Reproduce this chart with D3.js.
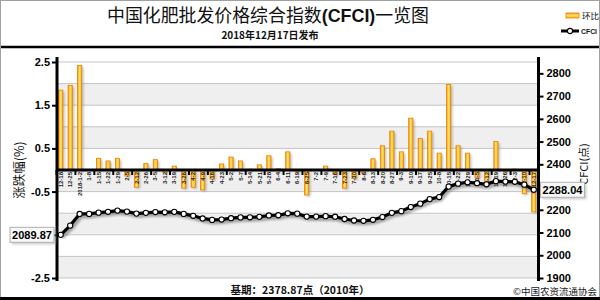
<!DOCTYPE html>
<html><head><meta charset="utf-8">
<script src="https://cdn.jsdelivr.net/npm/d3@7"></script>
<style>
body{margin:0;background:#fff}
svg{display:block}
text{font-family:Arial,"Liberation Sans",sans-serif}
.cjk{font-family:"Noto Sans CJK SC","Noto Sans",sans-serif}
</style>
</head><body>
<svg id="c" width="600" height="300"></svg>
<script>
const labels=["12-18","12-25","2018-1-2","1-8","1-15","1-22","1-29","2-5","2-12","2-26","3-5","3-12","3-19","3-26","4-2","4-9","4-16","4-23","5-2","5-7","5-14","5-21","5-28","6-4","6-11","6-19","6-25","7-2","7-9","7-16","7-23","7-30","8-6","8-13","8-20","8-27","9-3","9-10","9-17","9-25","10-8","10-15","10-22","10-29","11-5","11-12","11-19","11-26","12-3","12-10","12-17"];
const changes=[1.85,1.96,2.42,0.01,0.27,0.21,0.27,-0.14,-0.40,0.15,0.24,-0.05,0.09,-0.42,-0.40,-0.46,-0.21,0.14,0.30,0.21,0.02,0.12,0.33,0.03,0.42,-0.04,-0.58,0.01,0.09,-0.10,-0.42,-0.20,-0.07,0.26,0.56,0.90,0.42,1.20,0.73,0.90,0.39,1.98,0.56,0.39,-0.17,-0.26,0.66,-0.04,0.02,-0.55,-0.97];
const cfci=[2089.87,2130.5,2181.6,2182.0,2187.5,2191.2,2196.4,2192.0,2183.3,2186.5,2190.0,2189.0,2191.0,2182.0,2173.5,2162.0,2155.5,2157.0,2163.0,2166.5,2167.0,2169.0,2175.0,2176.0,2184.5,2183.0,2170.0,2170.0,2172.0,2169.5,2159.5,2153.0,2151.5,2156.0,2168.0,2186.5,2194.0,2212.0,2227.0,2247.0,2256.0,2302.0,2315.0,2321.0,2317.0,2312.0,2326.0,2324.0,2323.0,2310.5,2288.04];
const leftTicks=[2.5,1.5,0.5,-0.5,-1.5,-2.5];
const leftLabelled=[2.5,1.5,0.5,-0.5,-2.5];
const gridVals=[2.5,2.0,1.5,1.0,0.5,0,-0.5,-1.0,-1.5,-2.0,-2.5];
const rightTicks=[1900,2000,2100,2200,2300,2400,2500,2600,2700,2800];
const rightLabelled=[1900,2000,2100,2200,2400,2500,2600,2700,2800];
const title="中国化肥批发价格综合指数";
const titleLatin="(CFCI)";
const titleEnd="一览图";
const subtitle="2018年12月17日发布";
const legendNames=["环比","CFCI"];
const leftTitle="涨跌幅(%)";
const rightTitle="CFCI(点)";
const baseText="基期：2378.87点（2010年）";
const credit="©中国农资流通协会";

const svg=d3.select("#c");
const L=56,R=538.5,T=62,B=278;
const x=d3.scaleBand().domain(labels).range([L,R]);
const xi=d3.scaleLinear().domain([0,labels.length]).range([L,R]);
const yL=d3.scaleLinear().domain([-2.5,2.5]).range([B,T]);
const yR=d3.scaleLinear().domain([1900,2850]).range([B,T]);

const defs=svg.append("defs");
const g1=defs.append("linearGradient").attr("id","bg").attr("x1","0").attr("x2","1").attr("y1","0").attr("y2","0");
g1.append("stop").attr("offset","0").attr("stop-color","#f39a12");
g1.append("stop").attr("offset","0.45").attr("stop-color","#ffe26a");
g1.append("stop").attr("offset","1").attr("stop-color","#f5b817");
const g2=defs.append("linearGradient").attr("id","bgv").attr("x1","0").attr("x2","0").attr("y1","0").attr("y2","1");
g2.append("stop").attr("offset","0").attr("stop-color","#f39a12");
g2.append("stop").attr("offset","0.45").attr("stop-color","#ffe26a");
g2.append("stop").attr("offset","1").attr("stop-color","#f5b817");
defs.append("filter").attr("id","blur").attr("x","-50%").attr("y","-50%").attr("width","200%").attr("height","200%")
  .append("feGaussianBlur").attr("stdDeviation","1");

// outer frame
svg.append("rect").attr("x",0.5).attr("y",0.5).attr("width",599).attr("height",298).attr("fill","#fff").attr("stroke","#a0a0a0");
svg.append("line").attr("x1",1).attr("x2",599).attr("y1",47).attr("y2",47).attr("stroke","#000").attr("stroke-width",2.5);
svg.append("line").attr("x1",0).attr("x2",600).attr("y1",298.5).attr("y2",298.5).attr("stroke","#000").attr("stroke-width",3);

// bands
const bands=d3.range(gridVals.length-1).map(i=>[gridVals[i],gridVals[i+1],i]);
svg.append("g").selectAll("rect").data(bands).join("rect")
  .attr("x",L).attr("width",R-L)
  .attr("y",d=>yL(d[0])).attr("height",d=>yL(d[1])-yL(d[0]))
  .attr("fill",d=>d[2]%2? "#efefef":"#ffffff");
svg.append("g").selectAll("line").data(gridVals).join("line")
  .attr("x1",L).attr("x2",R).attr("y1",d=>yL(d)).attr("y2",d=>yL(d))
  .attr("stroke","#c4c4c4").attr("stroke-width",1);

// bars
const bw=4.2;
const bars=svg.append("g");
bars.selectAll("rect.sh").data(changes).join("rect").attr("class","sh")
  .attr("x",(d,i)=>x(labels[i])+(x.bandwidth()-bw)/2+1.8)
  .attr("y",d=>Math.min(yL(d),yL(0))+1.5)
  .attr("width",bw).attr("height",d=>Math.abs(yL(d)-yL(0)))
  .attr("fill","#777").attr("opacity",0.45).attr("filter","url(#blur)");
bars.selectAll("rect.b").data(changes).join("rect").attr("class","b")
  .attr("x",(d,i)=>x(labels[i])+(x.bandwidth()-bw)/2)
  .attr("y",d=>Math.min(yL(d),yL(0)))
  .attr("width",bw).attr("height",d=>Math.abs(yL(d)-yL(0)))
  .attr("fill","url(#bg)").attr("stroke","#ef7d00").attr("stroke-width",0.8);

// category axis
const y0=yL(0);
const catTicks=svg.append("g").attr("transform",`translate(0,${y0})`)
  .call(d3.axisBottom(xi).tickValues(d3.range(0,labels.length+1,2)).tickSize(5).tickFormat(""));
catTicks.select(".domain").remove();
catTicks.selectAll("line").attr("stroke","#000").attr("stroke-width",2);
const catAx=svg.append("g").attr("transform",`translate(0,${y0})`)
  .call(d3.axisBottom(x).tickSize(0));
catAx.select(".domain").remove();
catAx.selectAll("text").attr("transform","rotate(-90)").attr("text-anchor","end")
  .attr("x",-2).attr("y",0).attr("dy","0.35em")
  .attr("font-size",6).attr("font-weight","bold").attr("fill","#222");
svg.append("line").attr("x1",L).attr("x2",R).attr("y1",y0).attr("y2",y0).attr("stroke","#000").attr("stroke-width",3);

// line
const ln=d3.line().x((d,i)=>x(labels[i])+x.bandwidth()/2).y(d=>yR(d));
svg.append("path").datum(cfci).attr("d",ln).attr("transform","translate(1.5,2.5)")
  .attr("fill","none").attr("stroke","#555").attr("stroke-width",4).attr("opacity",0.5).attr("filter","url(#blur)");
svg.append("path").datum(cfci).attr("d",ln).attr("fill","none").attr("stroke","#000").attr("stroke-width",3.2).attr("stroke-linejoin","round");
svg.append("g").selectAll("circle").data(cfci).join("circle")
  .attr("cx",(d,i)=>x(labels[i])+x.bandwidth()/2).attr("cy",d=>yR(d)).attr("r",2.6)
  .attr("fill","#fff").attr("stroke","#000").attr("stroke-width",1.1);

// axes
const la=svg.append("g").attr("transform",`translate(${L+1},0)`)
  .call(d3.axisLeft(yL).tickValues(leftTicks).tickSize(5).tickPadding(2)
    .tickFormat(d=>leftLabelled.includes(d)? d.toFixed(1):""));
la.select(".domain").remove();
la.selectAll("line").attr("stroke","#000").attr("stroke-width",2);
la.selectAll("text").attr("font-size",11).attr("font-weight","bold").attr("fill","#000");
la.selectAll("text").filter(function(){return this.textContent==="";}).remove();
svg.append("line").attr("x1",L+1).attr("x2",L+1).attr("y1",57).attr("y2",281).attr("stroke","#000").attr("stroke-width",3);
const ra=svg.append("g").attr("transform",`translate(${R},0)`)
  .call(d3.axisRight(yR).tickValues(rightTicks).tickSize(5).tickPadding(3)
    .tickFormat(d=>rightLabelled.includes(d)? String(d):""));
ra.select(".domain").remove();
ra.selectAll("line").attr("stroke","#000").attr("stroke-width",2);
ra.selectAll("text").attr("font-size",11).attr("font-weight","bold").attr("fill","#000");
ra.selectAll("text").filter(function(){return this.textContent==="";}).remove();
svg.append("line").attr("x1",R).attr("x2",R).attr("y1",57).attr("y2",281).attr("stroke","#000").attr("stroke-width",3);

// axis titles
svg.append("text").attr("class","cjk").attr("transform",`translate(24,170) rotate(-90)`)
  .attr("text-anchor","middle").attr("font-size",12.5).attr("fill","#111").text(leftTitle);
svg.append("text").attr("class","cjk").attr("transform",`translate(588,164) rotate(-90)`)
  .attr("text-anchor","middle").attr("font-size",11).attr("fill","#111").text(rightTitle);

// callouts
function callout(val,cx,cy,anchor){
  const g=svg.append("g");
  const t=g.append("text").attr("font-size",11).attr("font-weight","bold").attr("fill","#000").text(val.toFixed(2));
  const w=44,h=15;
  const bx=anchor==="end"? cx-w: cx;
  g.insert("rect","text").attr("x",bx+2).attr("y",cy-h/2+2).attr("width",w).attr("height",h).attr("fill","#999").attr("opacity",0.5).attr("filter","url(#blur)");
  g.insert("rect","text").attr("x",bx).attr("y",cy-h/2).attr("width",w).attr("height",h).attr("fill","#f7f7f7").attr("stroke","#b0b0b0").attr("stroke-width",1);
  t.attr("x",bx+w/2).attr("y",cy+4).attr("text-anchor","middle");
}
callout(cfci[0],L-2,yR(cfci[0]),"end");
callout(cfci[cfci.length-1],R+2,yR(cfci[cfci.length-1]),"start");

// title
const tt=svg.append("text").attr("x",268).attr("y",22).attr("text-anchor","middle").attr("font-size",18).attr("fill","#111")
  .attr("textLength",322).attr("lengthAdjust","spacingAndGlyphs");
tt.append("tspan").attr("class","cjk").text(title);
tt.append("tspan").attr("font-weight","bold").attr("font-family","Arial,'Liberation Sans',sans-serif").text(titleLatin);
tt.append("tspan").attr("class","cjk").text(titleEnd);
svg.append("text").attr("class","cjk").attr("x",270).attr("y",38.5).attr("text-anchor","middle").attr("font-size",10).attr("font-weight","bold").attr("fill","#111").text(subtitle);

// legend
svg.append("rect").attr("x",566).attr("y",13).attr("width",13).attr("height",5).attr("fill","url(#bgv)").attr("stroke","#ef7d00").attr("stroke-width",0.8);
svg.append("text").attr("class","cjk").attr("x",582).attr("y",19).attr("font-size",8.5).attr("fill","#111").text(legendNames[0]);
svg.append("line").attr("x1",561).attr("x2",579).attr("y1",31).attr("y2",31).attr("stroke","#000").attr("stroke-width",3);
svg.append("circle").attr("cx",570).attr("cy",31).attr("r",2.6).attr("fill","#fff").attr("stroke","#000").attr("stroke-width",1.1);
svg.append("text").attr("x",581).attr("y",34).attr("font-size",8).attr("font-weight","bold").attr("fill","#111")
  .attr("textLength",16).attr("lengthAdjust","spacingAndGlyphs").text(legendNames[1]);

// footer
svg.append("text").attr("class","cjk").attr("x",300).attr("y",294).attr("text-anchor","middle").attr("font-size",10.5).attr("font-weight","bold").attr("fill","#111").text(baseText);
svg.append("text").attr("class","cjk").attr("x",597).attr("y",295).attr("text-anchor","end").attr("font-size",9.5).attr("fill","#222").text(credit);
</script>
</body></html>
